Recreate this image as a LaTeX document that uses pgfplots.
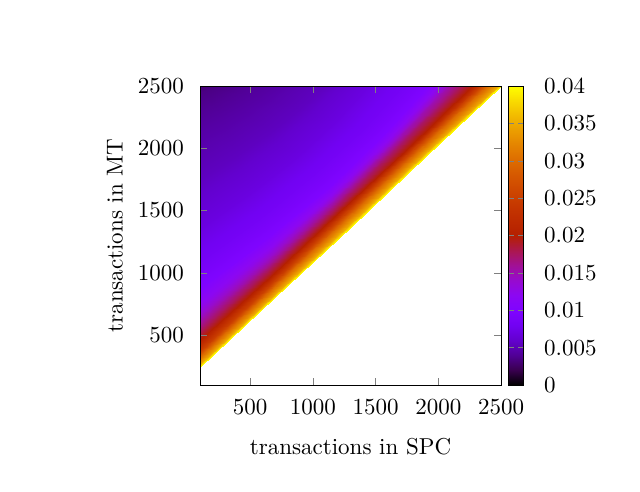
\documentclass[border=0pt]{standalone}
\usepackage{pgfplots}
\pgfplotsset{compat=1.18}
\pgfplotsset{colormap={gnu}{
rgb=(0,0,0) rgb=(0.2236,0.0001,0.309) rgb=(0.3162,0.001,0.5878) rgb=(0.3873,0.0034,0.809)
rgb=(0.4472,0.008,0.9511) rgb=(0.5,0.0156,1) rgb=(0.5477,0.027,0.9511) rgb=(0.5916,0.0429,0.809)
rgb=(0.6325,0.064,0.5878) rgb=(0.6708,0.0911,0.309) rgb=(0.7071,0.125,0) rgb=(0.7416,0.1664,0)
rgb=(0.7746,0.216,0) rgb=(0.8062,0.2746,0) rgb=(0.8367,0.343,0) rgb=(0.866,0.4219,0)
rgb=(0.8944,0.512,0) rgb=(0.922,0.6141,0) rgb=(0.9487,0.729,0) rgb=(0.9747,0.8574,0) rgb=(1,1,0)}}
\begin{document}
\begin{tikzpicture}
\path (-86.96pt,-46.52pt) rectangle (191.30pt,167.39pt);
\begin{axis}[
  at={(0,0)}, anchor=south west,
  scale only axis, width=130.87pt, height=130.0pt,
  xmin=100, xmax=2500, ymin=100, ymax=2500,
  xtick={500,1000,1500,2000,2500}, ytick={500,1000,1500,2000,2500},
  /pgf/number format/set thousands separator={},
  major tick length=3pt,
  axis on top,
  xticklabel style={yshift=-3pt},
  yticklabel style={xshift=-3.5pt},
  xlabel={transactions in SPC}, ylabel={transactions in MT},
  xlabel style={at={(axis description cs:0.5,-0.2074)}, anchor=center},
  ylabel style={at={(axis description cs:-0.2827,0.5)}, anchor=center, rotate=0},
  colormap name=gnu,
  point meta min=0, point meta max=0.04,
  colorbar,
  colorbar style={
    at={(parent axis.north east)}, anchor=north west, xshift=-5.2pt,
    width=6.52pt,
    scaled y ticks=false,
    ytick={0,0.005,0.01,0.015,0.02,0.025,0.03,0.035,0.04},
    yticklabels={0,0.005,0.01,0.015,0.02,0.025,0.03,0.035,0.04},
    yticklabel pos=right, ytick pos=both,
    major tick length=2.5pt,
    yticklabel style={xshift=5.4pt},
  },
]
\addplot[surf, shader=interp, mesh/cols=5, point meta=explicit]
table[x=x, y=y, meta=v] {
x y v
100 244 0.04
700 808 0.04
1300 1372 0.04
1900 1936 0.04
2500 2500 0.04

100 265 0.035
693.75 826.25 0.035
1287.5 1382.5 0.035
1881.25 1943.75 0.035
2475 2500 0.035

100 325 0.03
672.5 868.75 0.03
1245 1412.5 0.03
1817.5 1956.25 0.03
2390 2500 0.03

100 375 0.025
657.5 906.25 0.025
1215 1437.5 0.025
1772.5 1968.75 0.025
2330 2500 0.025

100 460 0.02
656.25 970 0.02
1202.5 1480 0.02
1738.75 1990 0.02
2265 2500 0.02

100 540 0.0175
647.5 1030 0.0175
1175 1520 0.0175
1682.5 2010 0.0175
2170 2500 0.0175

100 630 0.015
647.5 1097.5 0.015
1160 1565 0.015
1637.5 2032.5 0.015
2080 2500 0.015

100 730 0.0125
652.5 1172.5 0.0125
1155 1615 0.0125
1607.5 2057.5 0.0125
2010 2500 0.0125

100 880 0.01
645 1285 0.01
1130 1690 0.01
1555 2095 0.01
1920 2500 0.01

100 1080 0.0085
590 1435 0.0085
1025 1790 0.0085
1405 2145 0.0085
1730 2500 0.0085

100 1350 0.007
505 1637.5 0.007
865 1925 0.007
1180 2212.5 0.007
1450 2500 0.007

100 1750 0.0055
395 1937.5 0.0055
660 2125 0.0055
895 2312.5 0.0055
1100 2500 0.0055

100 2150 0.0045
272.5 2237.5 0.0045
430 2325 0.0045
572.5 2412.5 0.0045
700 2500 0.0045

100 2450 0.0035
137.5 2462.5 0.0035
175 2475 0.0035
212.5 2487.5 0.0035
250 2500 0.0035

100 2500 0.003
100 2500 0.003
100 2500 0.003
100 2500 0.003
100 2500 0.003
};
\end{axis}
\end{tikzpicture}
\end{document}
